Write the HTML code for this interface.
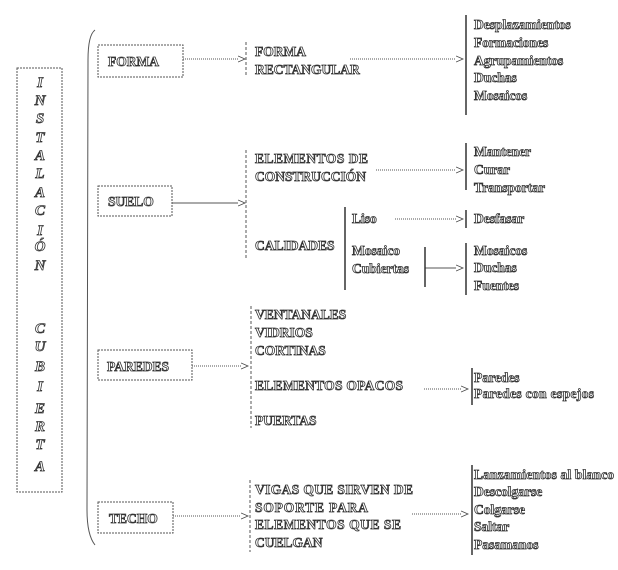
<!DOCTYPE html>
<html><head><meta charset="utf-8"><style>
html,body{margin:0;padding:0;background:#fff}
svg text{font-family:"Liberation Serif",serif;font-weight:bold;font-size:13.5px;fill:#fff;stroke:#333;stroke-width:0.8px}
.v{font-style:italic;font-size:15px;text-anchor:middle}
.s{font-size:13.5px}
</style></head><body>
<svg width="618" height="565" xmlns="http://www.w3.org/2000/svg">
<defs><marker id="a" markerWidth="8" markerHeight="8" refX="7" refY="4" orient="auto"><path d="M0,1 L7,4 L0,7" fill="#fff" stroke="#444" stroke-width="0.8"/></marker></defs>
<g fill="none" stroke="#555" stroke-width="1">
<rect x="17" y="68" width="45" height="424" stroke-dasharray="2,1"/>
<path d="M95,30 Q88,35 88,60 L87,510 Q87,535 95,545"/>
<rect x="98" y="45" width="85" height="32" stroke-dasharray="2,1"/>
<rect x="98" y="186" width="74" height="30" stroke-dasharray="2,1"/>
<rect x="98" y="350" width="94" height="30" stroke-dasharray="2,1"/>
<rect x="98" y="502" width="75" height="31" stroke-dasharray="2,1"/>
<g stroke-dasharray="1,1" marker-end="url(#a)">
<line x1="183" y1="59" x2="245" y2="59"/>
<line x1="350" y1="59" x2="463" y2="59"/>
<line x1="376" y1="170" x2="463" y2="170"/>
<line x1="395" y1="219" x2="463" y2="219"/>
<line x1="192" y1="366" x2="248" y2="366"/>
<line x1="424" y1="389" x2="468" y2="389"/>
<line x1="173" y1="516" x2="248" y2="516"/>
<line x1="412" y1="514" x2="468" y2="514"/>
</g>
<g marker-end="url(#a)">
<line x1="172" y1="203" x2="245" y2="203"/>
<line x1="425" y1="268" x2="463" y2="268"/>
</g>
<g stroke-dasharray="3,2">
<line x1="246" y1="42" x2="246" y2="76"/>
<line x1="246" y1="150" x2="246" y2="258"/>
<line x1="251" y1="306" x2="251" y2="428"/>
<line x1="250" y1="480" x2="250" y2="552"/>
</g>
<g stroke="#333" stroke-width="1.5">
<line x1="466" y1="15" x2="466" y2="115"/>
<line x1="466" y1="143" x2="466" y2="190"/>
<line x1="466" y1="210" x2="466" y2="228"/>
<line x1="466" y1="243" x2="466" y2="295"/>
<line x1="345" y1="207" x2="345" y2="290"/>
<line x1="425" y1="247" x2="425" y2="287"/>
<line x1="472" y1="368" x2="472" y2="405"/>
<line x1="472" y1="465" x2="472" y2="555"/>
</g>
</g>
<text class="v" x="40" y="87">I</text><text class="v" x="40" y="105">N</text><text class="v" x="40" y="123">S</text><text class="v" x="40" y="142">T</text><text class="v" x="40" y="160">A</text><text class="v" x="40" y="178">L</text><text class="v" x="40" y="197">A</text><text class="v" x="40" y="215">C</text><text class="v" x="40" y="235">I</text><text class="v" x="40" y="251">Ó</text><text class="v" x="40" y="270">N</text><text class="v" x="40" y="333">C</text><text class="v" x="40" y="351">U</text><text class="v" x="40" y="371">B</text><text class="v" x="40" y="391">I</text><text class="v" x="40" y="413">E</text><text class="v" x="40" y="431">R</text><text class="v" x="40" y="449">T</text><text class="v" x="40" y="471">A</text>
<text x="108" y="66">FORMA</text>
<text x="108" y="206">SUELO</text>
<text x="107" y="371">PAREDES</text>
<text x="109" y="523">TECHO</text>
<text x="255" y="56">FORMA</text><text x="255" y="74">RECTANGULAR</text>
<text x="255" y="163" textLength="113">ELEMENTOS  DE</text><text x="255" y="181">CONSTRUCCIÓN</text>
<text x="255" y="250">CALIDADES</text>
<text x="352" y="223">Liso</text><text x="352" y="255">Mosaico</text><text x="352" y="273">Cubiertas</text>
<text x="255" y="319">VENTANALES</text><text x="255" y="337">VIDRIOS</text><text x="255" y="355">CORTINAS</text>
<text x="255" y="390" textLength="148">ELEMENTOS  OPACOS</text><text x="255" y="425">PUERTAS</text>
<text x="255" y="494" textLength="158">VIGAS QUE SIRVEN DE</text><text x="255" y="512" textLength="113">SOPORTE PARA</text><text x="255" y="529" textLength="146">ELEMENTOS  QUE SE</text><text x="255" y="547">CUELGAN</text>
<text class="s" x="474" y="29">Desplazamientos</text><text class="s" x="474" y="47">Formaciones</text><text class="s" x="474" y="65">Agrupamientos</text><text class="s" x="474" y="82">Duchas</text><text class="s" x="474" y="100">Mosaicos</text>
<text class="s" x="474" y="156">Mantener</text><text class="s" x="474" y="174">Curar</text><text class="s" x="474" y="192">Transportar</text>
<text class="s" x="474" y="223">Desfasar</text>
<text class="s" x="474" y="255">Mosaicos</text><text class="s" x="474" y="272">Duchas</text><text class="s" x="474" y="290">Fuentes</text>
<text class="s" x="474" y="382">Paredes</text><text class="s" x="474" y="398" textLength="120">Paredes con espejos</text>
<text class="s" x="474" y="479" textLength="140">Lanzamientos al blanco</text><text class="s" x="474" y="496">Descolgarse</text><text class="s" x="474" y="514">Colgarse</text><text class="s" x="474" y="531">Saltar</text><text class="s" x="474" y="549">Pasamanos</text>
</svg>
</body></html>
